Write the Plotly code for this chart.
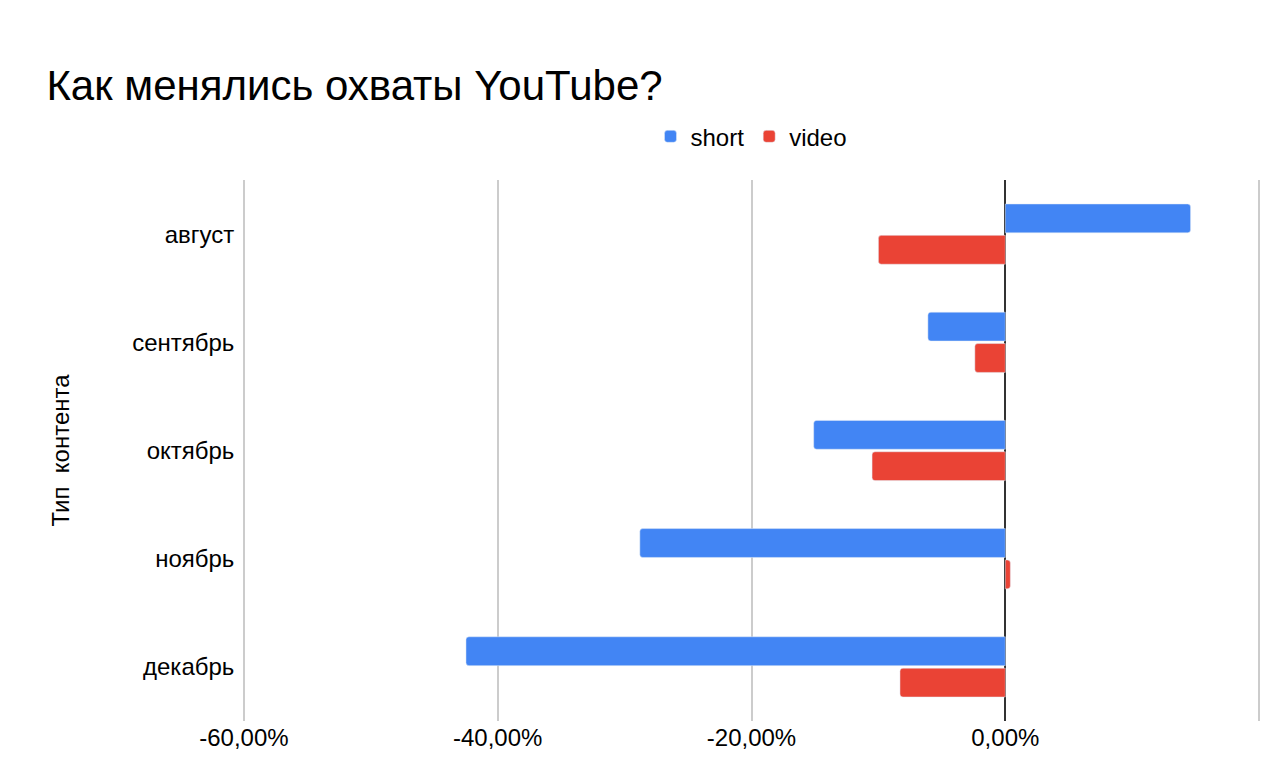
import plotly.graph_objects as go

months = ["август", "сентябрь", "октябрь", "ноябрь", "декабрь"]
short = [14.6, -6.1, -15.1, -28.8, -42.5]
video = [-10.0, -2.4, -10.5, 0.4, -8.3]
tick_vals = [-60, -40, -20, 0, 20]
tick_text = ["-60,00%", "-40,00%", "-20,00%", "0,00%", ""]

fig = go.Figure()
fig.add_trace(go.Bar(y=months, x=short, name="short", orientation="h", marker_color="#4285F4"))
fig.add_trace(go.Bar(y=months, x=video, name="video", orientation="h", marker_color="#EA4335"))

fig.update_layout(
    width=1280, height=783,
    font=dict(family="Liberation Sans, Arial", size=24, color="#000"),
    title=dict(text="Как менялись охваты YouTube?", x=0.03, y=0.92, xanchor="left",
               font=dict(size=42)),
    legend=dict(orientation="h", x=0.5, xanchor="center", y=1.08, yanchor="middle",
                font=dict(size=24)),
    barmode="group", bargap=0.42, bargroupgap=0.08, barcornerradius=3,
    plot_bgcolor="white", paper_bgcolor="white",
    margin=dict(l=234, r=27, t=172, b=70),
)
fig.update_xaxes(range=[-60.15, 20.15], tickvals=tick_vals, ticktext=tick_text,
                 showgrid=True, gridcolor="#cccccc", gridwidth=2,
                 zeroline=True, zerolinecolor="#333", zerolinewidth=2)
fig.update_yaxes(autorange="reversed", ticksuffix=" ",
                 title=dict(text="Тип  контента", standoff=55, font=dict(size=24)))
fig.write_html("out.html")
